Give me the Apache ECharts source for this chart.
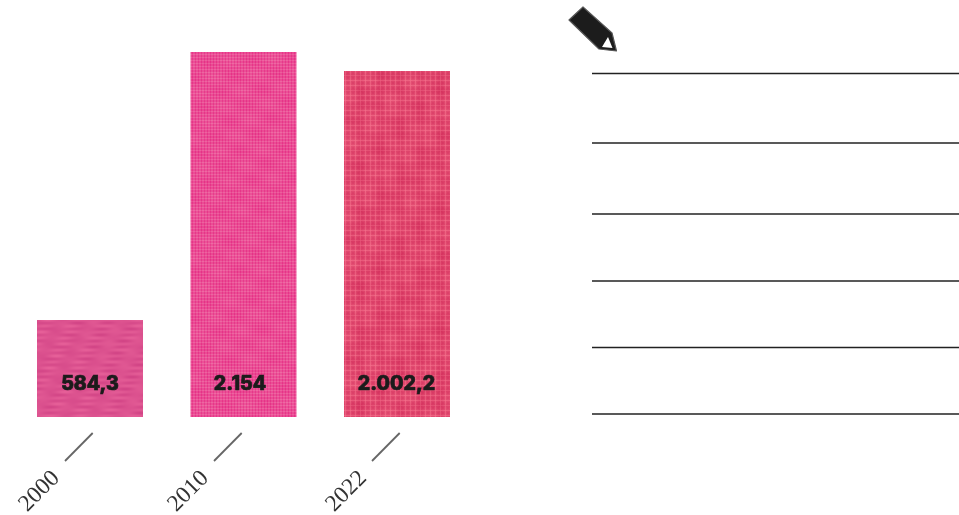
<!DOCTYPE html>
<html><head><meta charset="utf-8">
<style>html,body{margin:0;padding:0;background:#fff}#c{width:959px;height:515px}</style>
<script src="https://cdn.jsdelivr.net/npm/echarts@6/dist/echarts.min.js"></script>
</head><body><div id="c"></div>
<script>
const categories = ['2000', '2010', '2022'];
// Bar heights as drawn in the picture (the drawing is not strictly to scale)
const barValues = [572, 2154, 2042];
const valueLabels = ['584,3', '2.154', '2.002,2'];

function tile(size, fn) {
  const cv = document.createElement('canvas');
  cv.width = cv.height = size;
  const ctx = cv.getContext('2d');
  const im = ctx.createImageData(size, size);
  for (let y = 0; y < size; y++) for (let x = 0; x < size; x++) {
    const c = fn(x, y), i = (y * size + x) * 4;
    im.data[i] = c[0]; im.data[i + 1] = c[1]; im.data[i + 2] = c[2]; im.data[i + 3] = 255;
  }
  ctx.putImageData(im, 0, 0);
  return cv;
}
const mix = (a, b, t) => a.map((v, i) => Math.round(v + (b[i] - v) * Math.max(0, Math.min(1, t))));
const T = 2 * Math.PI, S = 240;
const weave = tile(S, (x, y) => {
  const rows = Math.sin(T * y / 6) * (0.5 + 0.5 * Math.sin(T * x / 30 + T * y / 48));
  const drift = Math.sin(T * x / 24 + T * y / 60) * 0.07 + Math.sin(T * x / 40 - T * y / 16) * 0.09;
  return mix([208, 66, 132], [232, 98, 154], 0.5 + 0.3 * rows + drift);
});
const cross = tile(S, (x, y) => {
  const a = Math.sin(T * (x + y) / 6), b = Math.sin(T * (x - y) / 6);
  const drift = Math.sin(T * (x - 2 * y) / 48) * 0.06 + Math.sin(T * (x + y) / 40) * 0.05;
  return mix([230, 48, 134], [238, 108, 164], 0.5 + 0.5 * a * b + drift);
});
const mesh = tile(S, (x, y) => {
  const l = Math.pow(0.5 + 0.5 * Math.cos(T * x / 5), 3), m = Math.pow(0.5 + 0.5 * Math.cos(T * y / 5), 3);
  const drift = Math.sin(T * (x + y) / 60) * 0.06 + Math.sin(T * (x - y) / 40) * 0.05;
  const dark = Math.pow(0.5 + 0.5 * Math.cos(T * x / 20), 8) * 0.2 + Math.pow(0.5 + 0.5 * Math.cos(T * y / 15), 8) * 0.2;
  return mix([214, 52, 96], [242, 108, 136], 0.22 + 0.5 * Math.max(l, m) + 0.25 * l * m + drift - dark);
});
const textures = [weave, cross, mesh];
const labelShift = [[0, 0], [-3.5, 0], [-0.5, 0]];
const tickShift = [0, -4.5, 0];

const line = (y) => ({
  type: 'line', silent: true,
  shape: { x1: 592, y1: y, x2: 959, y2: y },
  style: { stroke: '#222', lineWidth: 1.3 }
});

const chart = echarts.init(document.getElementById('c'), null, { renderer: 'canvas' });
chart.setOption({
  animation: false,
  grid: { left: 13.25, width: 460.5, top: 52, height: 365 },
  xAxis: { type: 'category', data: categories, axisLine: { show: false }, axisTick: { show: false }, axisLabel: { show: false } },
  yAxis: { type: 'value', min: 0, max: 2154, show: false, splitLine: { show: false } },
  series: [{
    type: 'bar', barWidth: 106,
    data: barValues.map((v, i) => ({
      value: v,
      itemStyle: { color: { image: textures[i], repeat: 'repeat' } },
      label: {
        show: true, position: 'insideBottom', distance: 23, offset: labelShift[i],
        formatter: valueLabels[i], fontFamily: 'Inter', fontWeight: 800, fontSize: 19.5, color: '#1b1b1b',
        textBorderColor: '#1b1b1b', textBorderWidth: 0.7
      }
    }))
  }, {
    type: 'custom', silent: true, clip: false,
    data: categories.map((c, i) => [i, c]),
    encode: { x: 0 },
    renderItem(params, api) {
      const i = api.value(0);
      const x = api.coord([i, 0])[0] + tickShift[i];
      return { type: 'group', children: [
        { type: 'line', shape: { x1: x - 25, y1: 461, x2: x + 2.7, y2: 433 }, style: { stroke: '#666', lineWidth: 1.8 } },
        { type: 'text', rotation: Math.PI / 4, x: x - 50.5, y: 491.5,
          style: { text: categories[i], fontFamily: 'Liberation Serif', fontSize: 23.5, fill: '#333', align: 'center', verticalAlign: 'middle' } }
      ] };
    }
  }],
  graphic: [
    line(73.5), line(143), line(214), line(281), line(347.5), line(414),
    { type: 'polygon', silent: true,
      shape: { points: [[569, 20], [583, 7], [612, 33], [616.5, 51], [599, 49]] },
      style: { fill: '#1c1c1c', stroke: '#555', lineWidth: 1.2, lineJoin: 'round' } },
    { type: 'polygon', silent: true,
      shape: { points: [[608, 37], [612.5, 48], [602, 47]] },
      style: { fill: '#fff' } }
  ]
});
</script></body></html>
